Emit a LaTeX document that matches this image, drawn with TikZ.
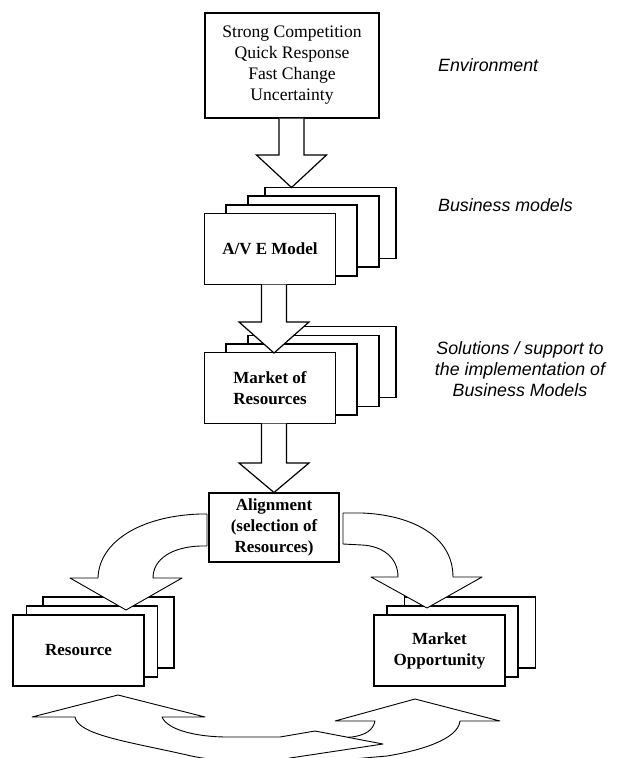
\documentclass[tikz,border=0pt]{standalone}
\usepackage{fontspec}
\setmainfont{Liberation Serif}
\setsansfont{Liberation Sans}
% shaft centre x, shaft top y, head base y, tip y
\newcommand{\downblock}[4]{%
  \draw[blockarrow] (#1-12.5,#2) -- (#1-12.5,#3) -- (#1-35,#3) -- (#1,#4)
    -- (#1+35,#3) -- (#1+12.5,#3) -- (#1+12.5,#2);}
\begin{document}
\begin{tikzpicture}[x=1pt,y=-1pt,
  card/.style={draw, line width=1.2pt, fill=white, minimum width=131pt,
    minimum height=71pt, inner sep=0pt, align=center,
    font=\fontsize{17}{21}\selectfont\bfseries},
  blockarrow/.style={draw, line width=1.2pt, fill=white, line join=miter},
  bendarrow/.style={draw, line width=0.9pt, fill=white, line join=round},
  note/.style={font=\fontsize{17.8}{21}\selectfont\sffamily\itshape,
    inner sep=0pt, align=center}]
\useasboundingbox (0,0) rectangle (617,758);
\clip (0,0) rectangle (617,758);

% environment box
\node[draw, line width=1.2pt, fill=white, minimum width=174pt,
  minimum height=105pt, inner sep=0pt, align=center,
  font=\fontsize{17.6}{21}\selectfont] (env) at (292,65.5)
  {Strong Competition\\Quick Response\\Fast Change\\Uncertainty};

% business model stack
\node[card] (ave4) at (330.5,223) {};
\node[card] (ave3) at (313.5,231.5) {};
\node[card] (ave2) at (291.5,240.5) {};
\node[card] (ave)  at (270,249) {A/V E Model};

% market of resources stack
\node[card] (mor4) at (330.5,362) {};
\node[card] (mor3) at (313.5,371) {};
\node[card] (mor2) at (291.5,379.5) {};
\node[card] (mor)  at (270,388) {Market of\\Resources};

% alignment
\node[card, minimum width=130pt, minimum height=69pt] (align) at (274,527.5)
  {Alignment\\(selection of\\Resources)};

% resource stack
\node[card] (res3) at (108.5,632.5) {};
\node[card] (res2) at (92,641.5) {};
\node[card] (res)  at (78.5,650.5) {Resource};

% market opportunity stack
\node[card] (mo3) at (470,632.5) {};
\node[card] (mo2) at (452.5,641.5) {};
\node[card] (mo)  at (439.5,650.5) {Market\\Opportunity};

% block arrows down the middle
\downblock{291.5}{118.6}{155}{187.5}
\downblock{274}{284.6}{322}{353}
\downblock{274}{423.6}{463}{492.5}

% bent arrows from the alignment box
\draw[bendarrow] (207,514) -- (200,514) .. controls (140,516) and (99,542) .. (98,578)
  -- (70,578) -- (126,610) -- (182,578) -- (153,578)
  .. controls (153,559) and (172,547) .. (200,546) -- (207,546) -- cycle;
\draw[bendarrow] (343,513) -- (362,513) .. controls (412,515) and (453,536) .. (453,577)
  -- (482,577) -- (427,608) -- (371,577) -- (398,577)
  .. controls (398,557) and (382,546) .. (362,545) -- (343,544) -- cycle;

% cycle arrows at the bottom
\draw[bendarrow] (415,699) -- (500,721) -- (460,721)
  .. controls (458,740) and (418,751) .. (387,756) -- (318,762)
  -- (240,768) -- (235,745) -- (352,737)
  .. controls (366,735) and (373,730) .. (375,721) -- (335,721) -- cycle;
\draw[bendarrow] (118,695) -- (205,717) -- (162,717)
  .. controls (168,731) and (200,737) .. (227,737) -- (280,737) -- (315,731)
  -- (383,744) -- (290,758) .. controls (270,763) and (220,763) .. (187,755)
  .. controls (130,742) and (78,735) .. (75,717) -- (32,717) -- cycle;

% level labels
\node[note, anchor=west] (lenv) at (438,65) {Environment};
\node[note, anchor=west] (lbm) at (438,205) {Business models};
\node[note] (lsol) at (520,369)
  {Solutions / support to\\the implementation of\\Business Models};
\end{tikzpicture}
\end{document}
